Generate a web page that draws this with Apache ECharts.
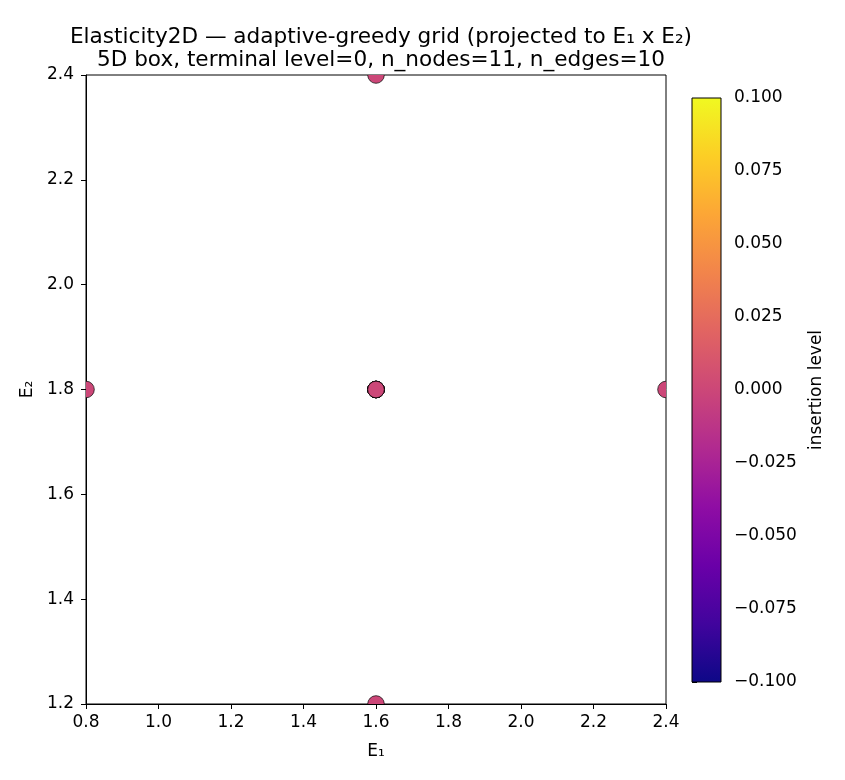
<!DOCTYPE html>
<html>
<head>
<meta charset="utf-8">
<script src="https://cdn.jsdelivr.net/npm/echarts@6/dist/echarts.min.js"></script>
<style>
  html, body { margin: 0; padding: 0; background: #fff; }
  #chart { width: 845px; height: 780px; }
</style>
</head>
<body>
<div id="chart"></div>
<script>
// node coordinates projected onto E1 x E2, with insertion level
var nodeE1 = [1.6, 1.6, 1.6, 1.6, 1.6, 1.6, 1.6, 0.8, 2.4, 1.6, 1.6];
var nodeE2 = [1.8, 1.8, 1.8, 1.8, 1.8, 1.8, 1.8, 1.8, 1.8, 2.4, 1.2];
var nodeLevel = [0, 0, 0, 0, 0, 0, 0, 0, 0, 0, 0];

var xTicks = [0.8, 1.0, 1.2, 1.4, 1.6, 1.8, 2.0, 2.2, 2.4];
var yTicks = [1.2, 1.4, 1.6, 1.8, 2.0, 2.2, 2.4];
var levelRange = [-0.1, 0.1];
var levelStep = 0.025;

var plasma = ['#0d0887', '#41049d', '#6a00a8', '#8f0da4', '#b12a90', '#cc4778',
              '#e16462', '#f2844b', '#fca636', '#fcce25', '#f0f921'];

var points = nodeE1.map(function (x, i) { return [x, nodeE2[i], nodeLevel[i]]; });

var font = 'DejaVu Sans';
var tickSize = 17;
var chart = echarts.init(document.getElementById('chart'));

function minus(s) { return s.replace('-', '\u2212'); }

var option = {
  animation: false,
  textStyle: { fontFamily: font },
  title: {
    text: 'Elasticity2D \u2014 adaptive-greedy grid (projected to E\u2081 x E\u2082)\n5D box, terminal level=0, n_nodes=11, n_edges=10',
    left: 376,
    top: 21,
    textAlign: 'center',
    textStyle: { fontFamily: font, fontSize: 21.6, fontWeight: 'normal', color: '#000', lineHeight: 23 }
  },
  visualMap: {
    show: false,
    seriesIndex: 0,
    dimension: 2,
    min: levelRange[0],
    max: levelRange[1],
    inRange: { color: plasma }
  },
  grid: [
    { left: 86, top: 75, width: 580, height: 629, show: true, borderColor: '#000', borderWidth: 1 },
    { left: 692, top: 98, width: 29, height: 584 }
  ],
  xAxis: [
    {
      gridIndex: 0, type: 'value', min: xTicks[0], max: xTicks[xTicks.length - 1], interval: 0.2,
      name: 'E\u2081', nameLocation: 'middle', nameGap: 39,
      nameTextStyle: { fontFamily: font, fontSize: tickSize, color: '#000' },
      axisLine: { show: true, onZero: false, lineStyle: { color: '#000', width: 1 } },
      axisTick: { show: true, inside: false, length: 5, lineStyle: { color: '#000' } },
      axisLabel: { fontFamily: font, fontSize: tickSize, color: '#000', margin: 10,
                   formatter: function (v) { return v.toFixed(1); } },
      splitLine: { show: false }
    },
    {
      gridIndex: 1, type: 'value', min: 0, max: 1, show: false
    }
  ],
  yAxis: [
    {
      gridIndex: 0, type: 'value', min: yTicks[0], max: yTicks[yTicks.length - 1], interval: 0.2,
      name: 'E\u2082', nameLocation: 'middle', nameGap: 48, nameRotate: 90,
      nameTextStyle: { fontFamily: font, fontSize: tickSize, color: '#000' },
      axisLine: { show: true, onZero: false, lineStyle: { color: '#000', width: 1 } },
      axisTick: { show: true, inside: false, length: 5, lineStyle: { color: '#000' } },
      axisLabel: { fontFamily: font, fontSize: tickSize, color: '#000', margin: 12,
                   formatter: function (v) { return v.toFixed(1); } },
      splitLine: { show: false }
    },
    {
      gridIndex: 1, type: 'value', position: 'right',
      min: levelRange[0], max: levelRange[1], interval: levelStep,
      name: 'insertion level', nameLocation: 'middle', nameGap: 87, nameRotate: 90,
      nameTextStyle: { fontFamily: font, fontSize: tickSize, color: '#000' },
      axisLine: { show: false },
      axisTick: { show: true, inside: false, length: 5, lineStyle: { color: '#000' } },
      axisLabel: { fontFamily: font, fontSize: tickSize, color: '#000', margin: 13,
                   formatter: function (v) {
                     if (Math.abs(v) < 1e-9) v = 0;
                     return minus(v.toFixed(3));
                   } },
      splitLine: { show: false }
    }
  ],
  series: [
    {
      type: 'custom',
      xAxisIndex: 0, yAxisIndex: 0,
      data: points,
      clip: true,
      encode: { x: 0, y: 1 },
      renderItem: function (params, api) {
        var p = api.coord([api.value(0), api.value(1)]);
        return {
          type: 'circle',
          shape: { cx: p[0], cy: p[1], r: 8.3 },
          style: { fill: api.visual('color'), stroke: '#000', lineWidth: 0.7 }
        };
      },
      z: 3
    },
    {
      type: 'custom',
      xAxisIndex: 1, yAxisIndex: 1,
      data: [[0, levelRange[0], 1, levelRange[1]]],
      renderItem: function (params, api) {
        var p1 = api.coord([api.value(0), api.value(3)]);
        var p2 = api.coord([api.value(2), api.value(1)]);
        var stops = plasma.map(function (c, i) {
          return { offset: 1 - i / (plasma.length - 1), color: c };
        }).reverse();
        return {
          type: 'rect',
          shape: { x: p1[0], y: p1[1], width: p2[0] - p1[0], height: p2[1] - p1[1] },
          style: {
            fill: new echarts.graphic.LinearGradient(0, 0, 0, 1, stops),
            stroke: '#000',
            lineWidth: 1
          }
        };
      }
    }
  ]
};

chart.setOption(option);
</script>
</body>
</html>
